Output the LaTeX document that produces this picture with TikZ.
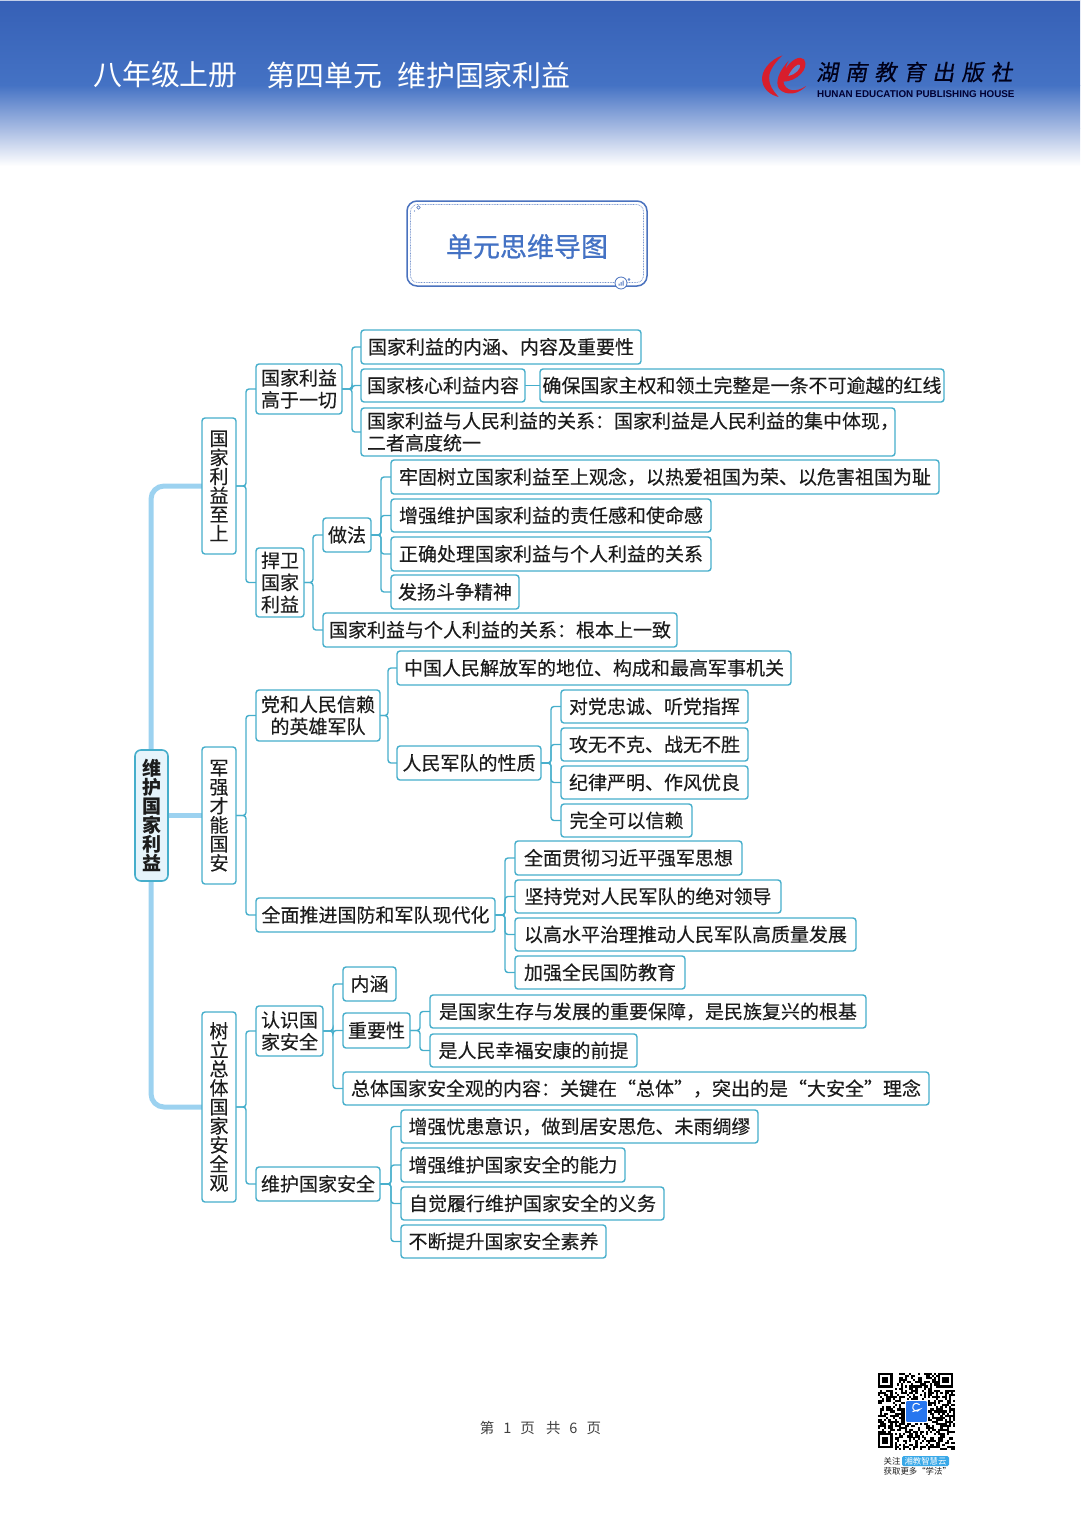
\documentclass[tikz,border=0pt]{standalone}
\usepackage{fontspec}
\setmainfont{Noto Sans CJK SC}
\newfontfamily\latinf{Liberation Sans}
\newfontfamily\logof[FakeSlant=0.18,FakeBold=0.6]{Noto Sans CJK SC}
\newfontfamily\medf[FakeBold=0.25]{Noto Sans CJK SC}
\newfontfamily\semif[FakeBold=0.75]{Noto Sans CJK SC}
\usetikzlibrary{backgrounds,calc}
\definecolor{edge}{HTML}{46AECB}
\definecolor{trunkc}{HTML}{9CD2F0}
\definecolor{rootf}{HTML}{E6F4FB}
\definecolor{ink}{HTML}{1C1C1C}
\definecolor{hd}{HTML}{3660B6}
\definecolor{hm}{HTML}{4472C4}
\definecolor{hl}{HTML}{A6BAE2}
\definecolor{tblue}{HTML}{4A72BE}
\definecolor{lred}{HTML}{D81E2C}
\definecolor{pill}{HTML}{38A8E8}
\lineskiplimit=-60pt
\newcommand{\st}{\rule[-2.4pt]{0pt}{19pt}}
\tikzset{
  tbox/.style={draw=edge,line width=1.4pt,rounded corners=3pt,fill=white,text=ink,inner sep=0pt,outer sep=0pt,align=center,font=\medf\fontsize{19}{22}\selectfont},
  vt/.style={font=\medf\fontsize{19}{19}\selectfont},
  rootbox/.style={draw=edge,fill=rootf,rounded corners=6pt,line width=1.6pt,font=\bfseries\fontsize{19}{19}\selectfont},
  link/.style={draw=edge,line width=1.4pt,rounded corners=3pt},
  trunk/.style={draw=trunkc,line width=5pt,rounded corners=13pt},
  headt/.style={text=white,inner sep=0pt,font=\fontsize{28.9}{30}\selectfont},
  qrt/.style={inner sep=0pt,text=ink,font=\fontsize{8.4}{10}\selectfont},
}
\newcommand{\bx}[7][]{\node[tbox,#1,minimum width={(#5-#3)*1pt},minimum height={(#6-#4)*1pt}] (#2) at ({(#3+#5)/2},{(#4+#6)/2}) {\st#7\st};}
\newcommand{\lnk}[3]{\draw[link] (#1.east) -- (#1.east -| #2) |- (#3.west);}
\begin{document}
\begin{tikzpicture}[x=1pt,y=-1pt]
\useasboundingbox (0,0) rectangle (1080,1527);
% header
\shade[top color=hd,bottom color=hm] (0,0) rectangle (1080,85);
\shade[top color=hm,bottom color=hl] (0,85) rectangle (1080,128);
\shade[top color=hl,bottom color=white] (0,128) rectangle (1080,166);
\fill[white!70!hd] (0,0) rectangle (1080,1.3);
\node[headt,anchor=west] (h1) at (93,75) {八年级上册};
\node[headt,anchor=west] (h2) at (266.5,75) {第四单元};
\node[headt,anchor=west] (h3) at (397,75) {维护国家利益};
% logo
\begin{scope}[shift={(750,40)},scale=0.3333]
\fill[lred] (98,46) .. controls (60,58) and (30,95) .. (37,125) .. controls (42,150) and (62,165) .. (86,171) .. controls (68,150) and (55,135) .. (58,105) .. controls (62,85) and (80,62) .. (98,46) -- cycle;
\fill[lred] (116,62) .. controls (95,85) and (76,115) .. (84,140) .. controls (90,160) and (135,175) .. (168,138) .. controls (140,158) and (105,155) .. (100,125) .. controls (140,125) and (180,85) .. (162,58) .. controls (150,45) and (122,60) .. (106,88) .. controls (108,78) and (112,70) .. (116,62) -- cycle;
\fill[hm!85!white] (115,108) .. controls (125,85) and (145,68) .. (150,75) .. controls (154,85) and (135,105) .. (115,108) -- cycle;
\end{scope}
\node[inner sep=0pt,text=black!90!blue,anchor=west,font=\logof\fontsize{22}{24}\selectfont\addfontfeature{LetterSpace=32}] (logoz) at (816,72) {湖南教育出版社};
\node[inner sep=0pt,text=black!80!blue,anchor=west,font=\latinf\bfseries\fontsize{9.85}{11}\selectfont] (logoe) at (817,94) {HUNAN EDUCATION PUBLISHING HOUSE};
% title
\node[draw=tblue,line width=1.5pt,rounded corners=10pt,fill=white,minimum width=240pt,minimum height=85pt,inner sep=0pt] (ttl) at (527,243.5) {};
\draw[tblue!75!white,line width=.7pt,dash pattern=on .8pt off .8pt,rounded corners=7pt] (410.5,204.5) rectangle (643.5,282.5);
\node[inner sep=0pt,text=hm,font=\semif\fontsize{27}{29}\selectfont] (ttlt) at (527,246.5) {单元思维导图};
\draw[tblue,fill=white,line width=.6pt] (418.5,207.5) circle (1.7pt);
\fill[tblue] (414.5,211) circle (.7pt);
\draw[tblue,fill=white,line width=.8pt] (621,283) circle (6pt);
\fill[tblue] (618.5,283.5) rectangle (619.5,285.5) (620.5,282) rectangle (621.5,285.5) (622.5,280.5) rectangle (623.5,285.5);
\draw[tblue,line width=.4pt] (629,279.5) circle (1pt);
% nodes
\bx[rootbox]{root}{135}{750}{168}{881}{维\\护\\国\\家\\利\\益}
\bx[vt]{La}{202}{418}{236}{554}{国\\家\\利\\益\\至\\上}
\bx[vt]{Lb}{202}{747}{236}{884}{军\\强\\才\\能\\国\\安}
\bx[vt]{Lc}{202}{1012}{236}{1202}{树\\立\\总\\体\\国\\家\\安\\全\\观}
\bx{Aa}{256}{364}{342}{414}{国家利益\\高于一切}
\bx{Ab}{256}{548}{304}{617}{捍卫\\国家\\利益}
\bx{Ba}{256}{690}{380}{741}{党和人民信赖\\的英雄军队}
\bx{Bb}{256}{898}{495}{932}{全面推进国防和军队现代化}
\bx{Ca}{256}{1006}{323}{1056}{认识国\\家安全}
\bx{Cb}{256}{1167}{380}{1201}{维护国家安全}
\bx{Aa1}{361}{330}{641}{364}{国家利益的内涵、内容及重要性}
\bx{Aa2}{361}{369}{525}{402}{国家核心利益内容}
\bx{Aa2x}{540}{369}{944}{402}{确保国家主权和领土完整是一条不可逾越的红线}
\bx[align=left]{Aa3}{361}{408}{895}{456}{国家利益与人民利益的关系：国家利益是人民利益的集中体现，\kern-10pt\\二者高度统一}
\bx{Ab1}{323}{518}{371}{552}{做法}
\bx{Ab2}{323}{613}{677}{647}{国家利益与个人利益的关系：根本上一致}
\bx{Ab1a}{391}{460}{939}{494}{牢固树立国家利益至上观念，以热爱祖国为荣、以危害祖国为耻}
\bx{Ab1b}{391}{499}{711}{532}{增强维护国家利益的责任感和使命感}
\bx{Ab1c}{391}{537}{711}{571}{正确处理国家利益与个人利益的关系}
\bx{Ab1d}{391}{575}{519}{609}{发扬斗争精神}
\bx{Ba1}{397}{651}{791}{685}{中国人民解放军的地位、构成和最高军事机关}
\bx{Ba2}{397}{746}{541}{780}{人民军队的性质}
\bx{Ba2a}{561}{690}{748}{723}{对党忠诚、听党指挥}
\bx{Ba2b}{561}{728}{748}{761}{攻无不克、战无不胜}
\bx{Ba2c}{561}{766}{748}{799}{纪律严明、作风优良}
\bx{Ba2d}{561}{804}{692}{837}{完全可以信赖}
\bx{Bb1}{515}{841}{742}{875}{全面贯彻习近平强军思想}
\bx{Bb2}{515}{880}{781}{913}{坚持党对人民军队的绝对领导}
\bx{Bb3}{515}{918}{856}{951}{以高水平治理推动人民军队高质量发展}
\bx{Bb4}{515}{956}{685}{989}{加强全民国防教育}
\bx{Ca1}{343}{967}{396}{1001}{内涵}
\bx{Ca2}{343}{1013}{410}{1048}{重要性}
\bx{Ca3}{343}{1072}{929}{1105}{总体国家安全观的内容：关键在“总体”，突出的是“大安全”理念}
\bx{Ca2a}{430}{995}{866}{1028}{是国家生存与发展的重要保障，是民族复兴的根基}
\bx{Ca2b}{430}{1034}{637}{1067}{是人民幸福安康的前提}
\bx{Cb1}{401}{1110}{758}{1143}{增强忧患意识，做到居安思危、未雨绸缪}
\bx{Cb2}{401}{1148}{625}{1182}{增强维护国家安全的能力}
\bx{Cb3}{401}{1187}{664}{1220}{自觉履行维护国家安全的义务}
\bx{Cb4}{401}{1225}{606}{1258}{不断提升国家安全素养}
% bus coordinates
\coordinate (b1) at (246,0);
\coordinate (bAa) at (352,0);
\coordinate (bAb) at (313,0);
\coordinate (bAb1) at (381,0);
\coordinate (bBa) at (388,0);
\coordinate (bBa2) at (551,0);
\coordinate (bBb) at (505,0);
\coordinate (bCa) at (333,0);
\coordinate (bCa2) at (420,0);
\coordinate (bCb) at (391,0);
\coordinate (tk) at (151,815);
\begin{pgfonlayer}{background}
\draw[trunk] (La.west) -| (tk) |- (Lc.west);
\draw[trunk,line width=5.5pt] (root.east) -- (Lb.west);
\foreach \p/\c in {La/Aa,La/Ab,Lb/Ba,Lb/Bb,Lc/Ca,Lc/Cb}{\lnk{\p}{b1}{\c}}
\foreach \c in {Aa1,Aa2,Aa3}{\lnk{Aa}{bAa}{\c}}
\foreach \c in {Ab1,Ab2}{\lnk{Ab}{bAb}{\c}}
\foreach \c in {Ab1a,Ab1b,Ab1c,Ab1d}{\lnk{Ab1}{bAb1}{\c}}
\foreach \c in {Ba1,Ba2}{\lnk{Ba}{bBa}{\c}}
\foreach \c in {Ba2a,Ba2b,Ba2c,Ba2d}{\lnk{Ba2}{bBa2}{\c}}
\foreach \c in {Bb1,Bb2,Bb3,Bb4}{\lnk{Bb}{bBb}{\c}}
\foreach \c in {Ca1,Ca2,Ca3}{\lnk{Ca}{bCa}{\c}}
\foreach \c in {Ca2a,Ca2b}{\lnk{Ca2}{bCa2}{\c}}
\foreach \c in {Cb1,Cb2,Cb3,Cb4}{\lnk{Cb}{bCb}{\c}}
\draw[link] (Aa2.east) -- (Aa2x.west);
\end{pgfonlayer}
% footer
\node[inner sep=0pt,text=black!75,font=\fontsize{14.5}{16}\selectfont] (foot) at (540.5,1428) {第\hspace{9pt}1\hspace{9pt}页\hspace{11pt}共\hspace{9pt}6\hspace{9pt}页};
% QR
\begin{scope}[shift={(878,1373)},x=2.08pt,y=-2.08pt]
\pgfmathsetseed{4127}
\foreach \i in {0,...,36}{\foreach \j in {0,...,36}{%
  \pgfmathrandominteger{\r}{0}{100}%
  \ifnum\r<50 \fill[black] (\i,\j) rectangle ++(1.02,1.02);\fi
}}
\foreach \a/\b in {0/0,29/0,0/29}{
  \fill[white] (\a-.0,\b-.0) rectangle ++(8,8);
  \fill[black] (\a,\b) rectangle ++(7,7);
  \fill[white] (\a+1,\b+1) rectangle ++(5,5);
  \fill[black] (\a+2,\b+2) rectangle ++(3,3);
}
\fill[white] (13,13) rectangle (24,24);
\fill[pill!70!blue,rounded corners=1pt] (13.5,13.5) rectangle (23.5,23.5);
\draw[white,line width=1pt] (16.6,18.6) -- (20.2,17.4) arc (30:320:1.9);
\end{scope}
\node[qrt,anchor=west] (q1) at (883.5,1461) {关注};
\node[inner sep=0pt,fill=pill,rounded corners=1.5pt,text=white,minimum width=47pt,minimum height=10pt,font=\fontsize{8.4}{10}\selectfont] (q2) at (925.5,1461) {湘教智慧云};
\node[qrt,anchor=west] (q3) at (883.5,1471.5) {获取更多“学法”};
\end{tikzpicture}
\end{document}
